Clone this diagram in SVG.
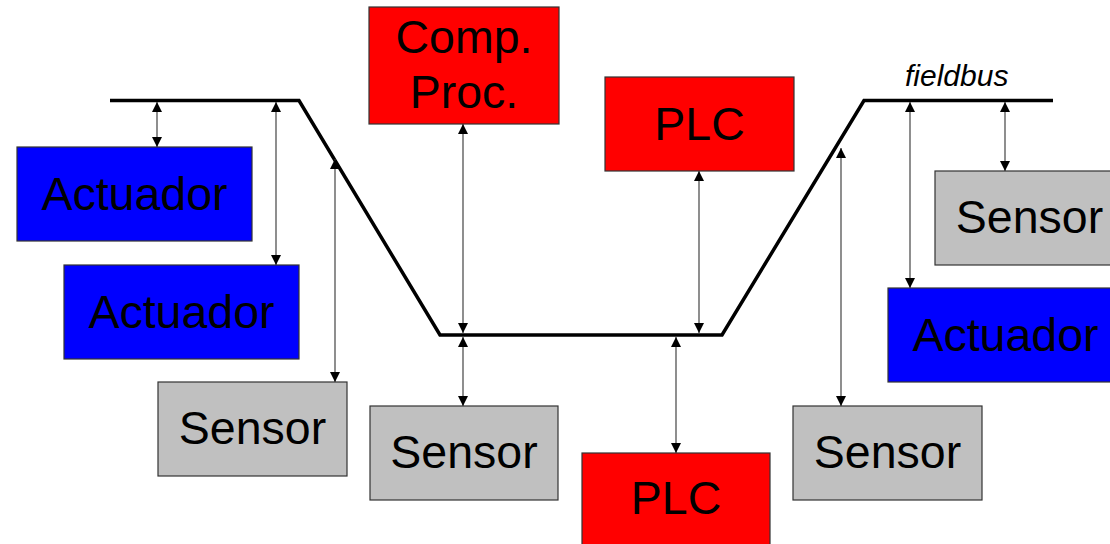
<svg xmlns="http://www.w3.org/2000/svg" width="1110" height="544" viewBox="0 0 1110 544">
<style>
.box{stroke:#333;stroke-width:1.2}
.red{fill:#FF0000}
.blue{fill:#0000FF}
.grey{fill:#C0C0C0}
.lbl{font-family:"Liberation Sans",Arial,sans-serif;font-size:46.5px;fill:#000;text-anchor:middle}
.conn{stroke:#444;stroke-width:1.2;fill:none;marker-start:url(#ah);marker-end:url(#ah)}
.bus{stroke:#000;stroke-width:3.5;fill:none;stroke-linejoin:miter}
</style>
<defs>
<marker id="ah" markerUnits="userSpaceOnUse" markerWidth="10" markerHeight="11" refX="10" refY="5.5" orient="auto-start-reverse">
<path d="M0,0.5 L10,5.5 L0,10.5 z" fill="#000"/>
</marker>
</defs>
<rect width="1110" height="544" fill="#fff"/>
<g id="bus">
<polyline class="bus" points="110,100.5 299,100.5 440,335 722,335 864,100.5 1053,100.5"/>
<text x="905" y="86" font-family="Liberation Sans,Arial,sans-serif" font-style="italic" font-size="30">fieldbus</text>
</g>
<g id="act1"><rect class="box blue" x="17" y="147" width="235" height="94"/><text class="lbl" x="134.5" y="210">Actuador</text></g>
<g id="act2"><rect class="box blue" x="64" y="265" width="235" height="94"/><text class="lbl" x="181.5" y="328">Actuador</text></g>
<g id="sens1"><rect class="box grey" x="158" y="382" width="189" height="94"/><text class="lbl" x="252.5" y="444">Sensor</text></g>
<g id="comp"><rect class="box red" x="369" y="7" width="190" height="117"/><text class="lbl" x="464" y="53">Comp.</text><text class="lbl" x="464" y="108">Proc.</text></g>
<g id="sens2"><rect class="box grey" x="370" y="406" width="188" height="94"/><text class="lbl" x="464" y="468">Sensor</text></g>
<g id="plc1"><rect class="box red" x="605" y="77" width="189" height="94"/><text class="lbl" x="699.5" y="140">PLC</text></g>
<g id="plc2"><rect class="box red" x="582" y="453" width="188" height="100"/><text class="lbl" x="676" y="514">PLC</text></g>
<g id="sens3"><rect class="box grey" x="793" y="406" width="189" height="94"/><text class="lbl" x="887.5" y="468">Sensor</text></g>
<g id="sens4"><rect class="box grey" x="935" y="171" width="189" height="94"/><text class="lbl" x="1029.5" y="233">Sensor</text></g>
<g id="act3"><rect class="box blue" x="888" y="288" width="235" height="94"/><text class="lbl" x="1005.5" y="351">Actuador</text></g>
<g id="connectors">
<line class="conn" x1="157" y1="102" x2="157" y2="147"/>
<line class="conn" x1="276" y1="102" x2="276" y2="265"/>
<line class="conn" x1="335" y1="159" x2="335" y2="382"/>
<line class="conn" x1="463" y1="124" x2="463" y2="333"/>
<line class="conn" x1="463" y1="337" x2="463" y2="406"/>
<line class="conn" x1="699" y1="171" x2="699" y2="333"/>
<line class="conn" x1="676" y1="337" x2="676" y2="453"/>
<line class="conn" x1="841" y1="148" x2="841" y2="406"/>
<line class="conn" x1="910" y1="102" x2="910" y2="288"/>
<line class="conn" x1="1005" y1="102" x2="1005" y2="171"/>
</g>
</svg>
